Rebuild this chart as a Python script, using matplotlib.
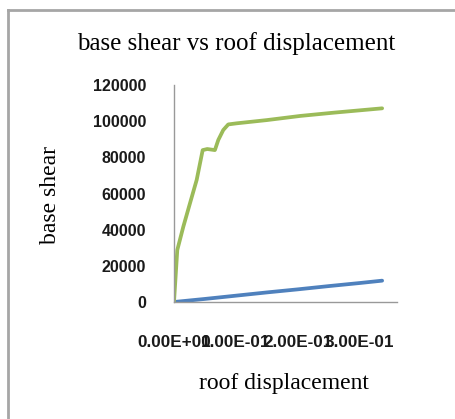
import matplotlib.pyplot as plt
from matplotlib.lines import Line2D

# roof displacement vs base shear
disp_a = [0.0, 0.0053, 0.015, 0.0258, 0.0366, 0.0463, 0.0537, 0.066, 0.0715,
          0.0795, 0.0876, 0.101, 0.150, 0.204, 0.258, 0.336]
shear_a = [0, 28750, 41600, 54600, 67500, 84000, 84600, 84000, 89600,
           95100, 98200, 98800, 100600, 102900, 104700, 107100]

disp_b = [0.0, 0.05, 0.10, 0.15, 0.20, 0.25, 0.30, 0.336]
shear_b = [0, 1700, 3500, 5300, 7000, 8800, 10500, 11800]

x_ticks = [0.0, 0.1, 0.2, 0.3]
x_labels = ["0.00E+00", "1.00E-01", "2.00E-01", "3.00E-01"]
y_ticks = [0, 20000, 40000, 60000, 80000, 100000, 120000]

W, H = 455, 419
fig = plt.figure(figsize=(W / 100, H / 100), dpi=100)

# frame of the chart box (only left and top edges are visible)
fig.add_artist(Line2D([8 / W, 1.0], [1 - 10 / H, 1 - 10 / H], color="#a6a6a6", lw=2))
fig.add_artist(Line2D([8 / W, 8 / W], [0, 1 - 10 / H], color="#a6a6a6", lw=2))

ax = fig.add_axes([174 / W, 1 - 302 / H, (397 - 174) / W, (302 - 85) / H])
ax.plot(disp_b, shear_b, color="#4f81bd", lw=2.7, solid_capstyle="round")
ax.plot(disp_a, shear_a, color="#9bbb59", lw=2.7, solid_capstyle="round")

ax.set_xlim(0, 0.36)
ax.set_ylim(0, 120000)
ax.set_xticks(x_ticks)
ax.set_xticklabels(x_labels)
ax.set_yticks(y_ticks)
ax.tick_params(length=0, labelsize=11.5, colors="#1a1a1a")
ax.tick_params(axis="y", pad=20)
ax.tick_params(axis="x", pad=24, labelsize=12.3)
for lab in ax.get_xticklabels() + ax.get_yticklabels():
    lab.set_family("Liberation Sans")
    lab.set_fontweight("bold")
for s in ["top", "right"]:
    ax.spines[s].set_visible(False)
for s in ["left", "bottom"]:
    ax.spines[s].set_color("#999999")
    ax.spines[s].set_linewidth(1)

serif = "Liberation Serif"
fig.text(236 / W, 1 - 44 / H, "base shear vs roof displacement", family=serif,
         fontsize=18, ha="center", va="center")
fig.text(50 / W, 1 - 195 / H, "base shear", family=serif, fontsize=17,
         rotation=90, ha="center", va="center")
fig.text(284 / W, 1 - 383 / H, "roof displacement", family=serif, fontsize=17,
         ha="center", va="center")

fig.savefig("out.png", dpi=100)
